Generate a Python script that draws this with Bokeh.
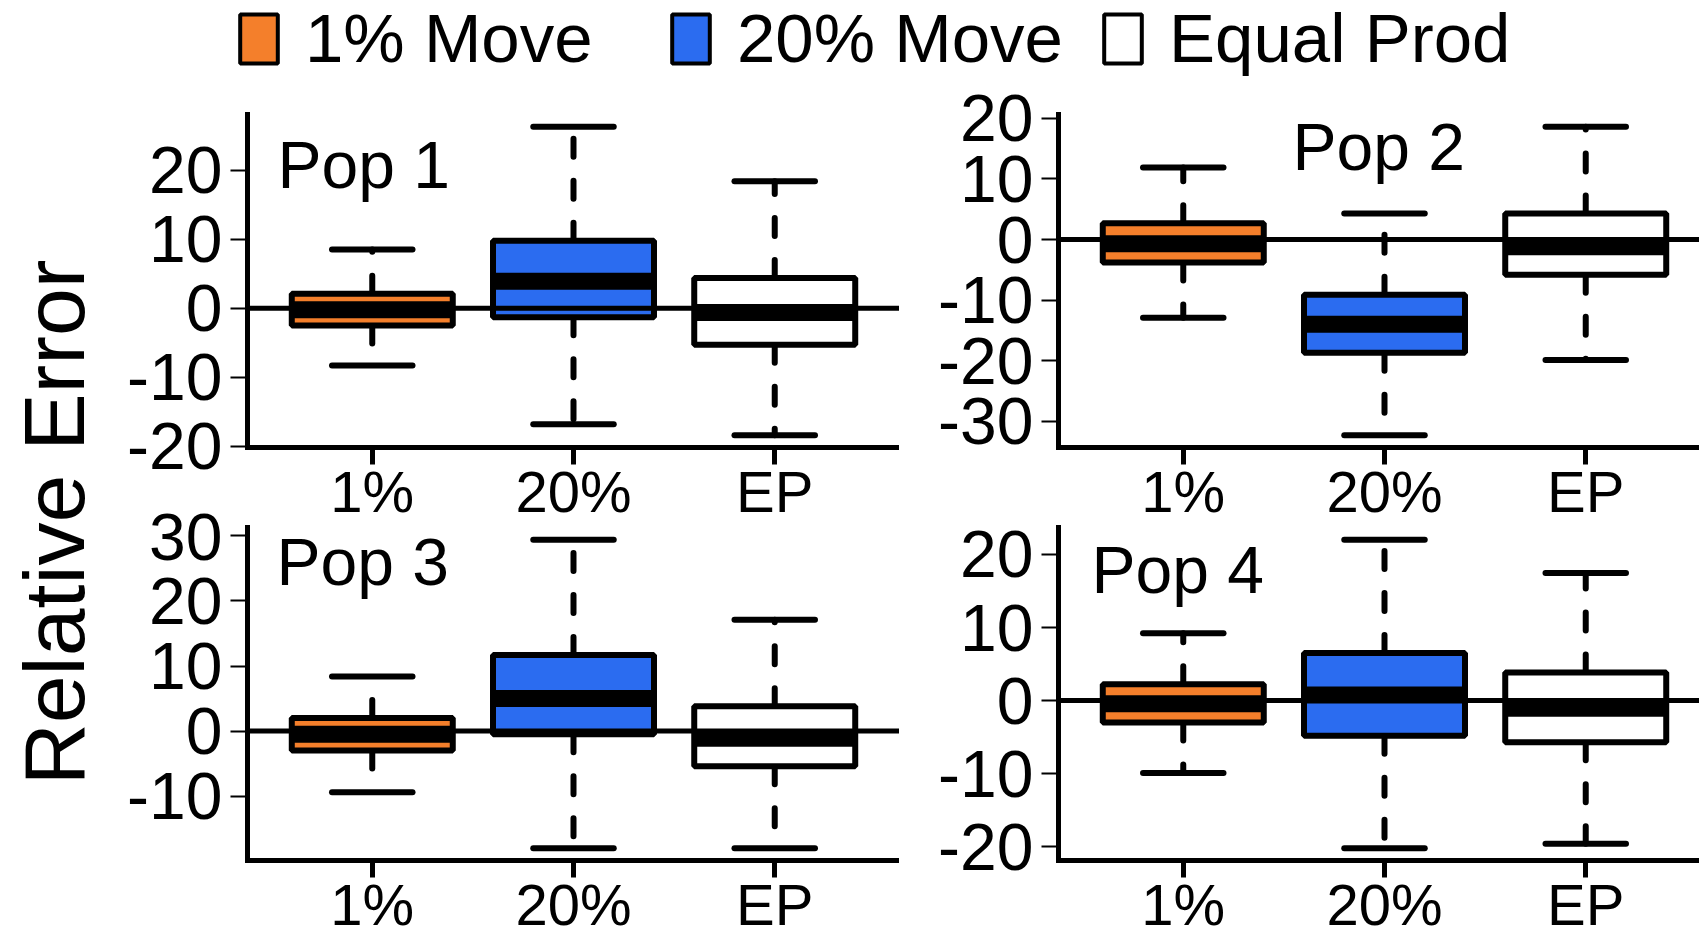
from bokeh.plotting import figure
from bokeh.layouts import row, column
from bokeh.models import (Range1d, LinearAxis, FixedTicker, SingleIntervalTicker, Span, Label,
                          Legend, LegendItem, ColumnDataSource, PrintfTickFormatter)
from bokeh.embed import file_html
from bokeh.resources import INLINE

# ---------------- data ----------------
categories = ["1%", "20%", "EP"]
series_names = ["1% Move", "20% Move", "Equal Prod"]
series_colors = ["#F47F2B", "#2B6CF0", "#FFFFFF"]
pop_names = ["Pop 1", "Pop 2", "Pop 3", "Pop 4"]
y_title = "Relative Error"

# box-plot summaries, one value per category (1%, 20%, EP)
pop1_lower = [-8.3, -16.8, -18.4]
pop1_q1 = [-2.5, -1.3, -5.3]
pop1_median = [-0.2, 3.9, -0.6]
pop1_q3 = [2.1, 9.8, 4.4]
pop1_upper = [8.5, 26.3, 18.4]

pop2_lower = [-12.9, -32.3, -19.9]
pop2_q1 = [-3.8, -18.7, -5.8]
pop2_median = [-0.7, -14.0, -1.2]
pop2_q3 = [2.7, -9.1, 4.3]
pop2_upper = [11.9, 4.3, 18.6]

pop3_lower = [-9.4, -18.0, -18.0]
pop3_q1 = [-3.0, -0.5, -5.4]
pop3_median = [-0.5, 5.0, -1.1]
pop3_q3 = [2.0, 11.7, 3.8]
pop3_upper = [8.4, 29.4, 17.1]

pop4_lower = [-9.9, -20.2, -19.6]
pop4_q1 = [-3.0, -4.8, -5.7]
pop4_median = [-0.45, 0.75, -1.05]
pop4_q3 = [2.25, 6.5, 3.85]
pop4_upper = [9.2, 22.0, 17.45]

# ---------------- style / layout ----------------
FONT = "Liberation Sans"
FRAME_H = 333
FRAME_W_LEFT = 652
FRAME_W_RIGHT = 641
BOX_HALF = 0.4
CAP_HALF = 0.2
NAN = float("nan")

n_cat = len(categories)
x_start = 0.5 - 0.04 * n_cat
x_end_full = n_cat + 0.5 + 0.04 * n_cat
unit_px = FRAME_W_LEFT / (x_end_full - x_start)


def make_panel(title, lower, q1, med, q3, upper, frame_w, border_left,
               border_top, below_px, label_xy):
    xs = list(range(1, n_cat + 1))
    lo, hi = min(lower), max(upper)
    pad = 0.04 * (hi - lo)
    y0, y1 = lo - pad, hi + pad
    ppu = FRAME_H / (y1 - y0)
    y_view_start = y0 - below_px / ppu      # room under the plot region for the x labels
    x_end = x_start + frame_w / unit_px
    p = figure(width=border_left + frame_w, height=border_top + FRAME_H + below_px,
               x_range=Range1d(x_start, x_end), y_range=Range1d(y_view_start, y1),
               min_border_left=border_left, min_border_right=0,
               min_border_top=border_top, min_border_bottom=0,
               x_axis_location=None, y_axis_location=None,
               toolbar_location=None, output_backend="svg")
    p.outline_line_color = None
    p.xgrid.visible = False
    p.ygrid.visible = False

    src = ColumnDataSource(dict(
        x=xs,
        left=[x - BOX_HALF for x in xs], right=[x + BOX_HALF for x in xs],
        cl=[x - CAP_HALF for x in xs], cr=[x + CAP_HALF for x in xs],
        lower=lower, q1=q1, med=med, q3=q3, upper=upper,
        color=series_colors,
    ))
    # whiskers (dashed) and staples
    p.segment(x0="x", y0="q3", x1="x", y1="upper", source=src, line_color="black",
              line_width=6, line_dash="18 24", line_cap="round")
    p.segment(x0="x", y0="q1", x1="x", y1="lower", source=src, line_color="black",
              line_width=6, line_dash="18 24", line_cap="round")
    p.segment(x0="cl", y0="upper", x1="cr", y1="upper", source=src, line_color="black",
              line_width=6, line_cap="round")
    p.segment(x0="cl", y0="lower", x1="cr", y1="lower", source=src, line_color="black",
              line_width=6, line_cap="round")
    # boxes and medians
    p.quad(left="left", right="right", bottom="q1", top="q3", source=src,
           fill_color="color", line_color="black", line_width=6)
    p.segment(x0="left", y0="med", x1="right", y1="med", source=src,
              line_color="black", line_width=17, line_cap="butt")
    # zero reference line
    p.add_layout(Span(location=0, dimension="width", line_color="black", line_width=5))

    yaxis = LinearAxis(ticker=SingleIntervalTicker(interval=10, num_minor_ticks=0),
                       formatter=PrintfTickFormatter(format="%d"), bounds=(y0, y1))
    yaxis.axis_line_width = 5
    yaxis.axis_line_cap = "square"
    yaxis.major_tick_out = 17
    yaxis.major_tick_in = 0
    yaxis.major_tick_line_width = 2
    yaxis.minor_tick_out = 0
    yaxis.minor_tick_in = 0
    yaxis.major_label_standoff = 8
    yaxis.major_label_text_font = FONT
    yaxis.major_label_text_font_size = "66px"
    yaxis.major_label_text_color = "black"
    p.add_layout(yaxis, "left")

    xaxis = LinearAxis(fixed_location=y0, ticker=FixedTicker(ticks=xs),
                       major_label_overrides={x: c for x, c in zip(xs, categories)})
    xaxis.axis_line_width = 5
    xaxis.major_tick_out = 17
    xaxis.major_tick_in = 0
    xaxis.major_tick_line_width = 5
    xaxis.minor_tick_out = 0
    xaxis.minor_tick_in = 0
    xaxis.major_label_standoff = -6
    xaxis.major_label_text_font = FONT
    xaxis.major_label_text_font_size = "58px"
    xaxis.major_label_text_color = "black"
    p.add_layout(xaxis, "below")

    p.add_layout(Label(x=label_xy[0], y=label_xy[1], x_units="screen", y_units="screen",
                       text=title, text_font=FONT, text_font_size="66px",
                       text_align="left", text_baseline="alphabetic", text_color="black"))
    return p


p1 = make_panel(pop_names[0], pop1_lower, pop1_q1, pop1_median, pop1_q3, pop1_upper,
                FRAME_W_LEFT, 139, 34, 66, (30, 349))
p2 = make_panel(pop_names[1], pop2_lower, pop2_q1, pop2_median, pop2_q3, pop2_upper,
                FRAME_W_RIGHT, 159, 34, 66, (234, 367))
p3 = make_panel(pop_names[2], pop3_lower, pop3_q1, pop3_median, pop3_q3, pop3_upper,
                FRAME_W_LEFT, 139, 14, 68, (29, 367))
p4 = make_panel(pop_names[3], pop4_lower, pop4_q1, pop4_median, pop4_q3, pop4_upper,
                FRAME_W_RIGHT, 159, 14, 68, (33, 359))

# legend strip
leg = figure(width=1591, height=80, x_range=Range1d(0, 1), y_range=Range1d(0, 1),
             min_border=0, x_axis_location=None, y_axis_location=None,
             toolbar_location=None, output_backend="svg")
leg.outline_line_color = None
leg.xgrid.visible = False
leg.ygrid.visible = False
n_s = len(series_names)
leg_src = ColumnDataSource(dict(left=[NAN] * n_s, right=[NAN] * n_s,
                                bottom=[NAN] * n_s, top=[NAN] * n_s, color=series_colors))
leg_r = leg.quad(left="left", right="right", bottom="bottom", top="top", source=leg_src,
                 fill_color="color", line_color="black", line_width=4)
items = [LegendItem(label=name, renderers=[leg_r], index=i)
         for i, name in enumerate(series_names)]
legend = Legend(items=items, orientation="horizontal", location=(127, 2),
                glyph_width=47, glyph_height=61, label_width=362, label_standoff=23,
                spacing=0, padding=0, margin=0, border_line_color=None,
                background_fill_alpha=0, label_text_font=FONT,
                label_text_font_size="69px", label_text_color="black")
leg.add_layout(legend)

# y title strip
yl = figure(width=108, height=928, x_range=Range1d(0, 1), y_range=Range1d(0, 1),
            min_border=0, x_axis_location=None, y_axis_location=None,
            toolbar_location=None, output_backend="svg")
yl.outline_line_color = None
yl.xgrid.visible = False
yl.ygrid.visible = False
yl.add_layout(Label(x=53, y=406, x_units="screen", y_units="screen", text=y_title,
                    angle=90, angle_units="deg", text_font=FONT, text_font_size="86px",
                    text_align="center", text_baseline="alphabetic", text_color="black"))

layout = row(yl, column(leg, row(p1, p2), row(p3, p4)))

with open("out.html", "w") as f:
    f.write(file_html(layout, INLINE))
